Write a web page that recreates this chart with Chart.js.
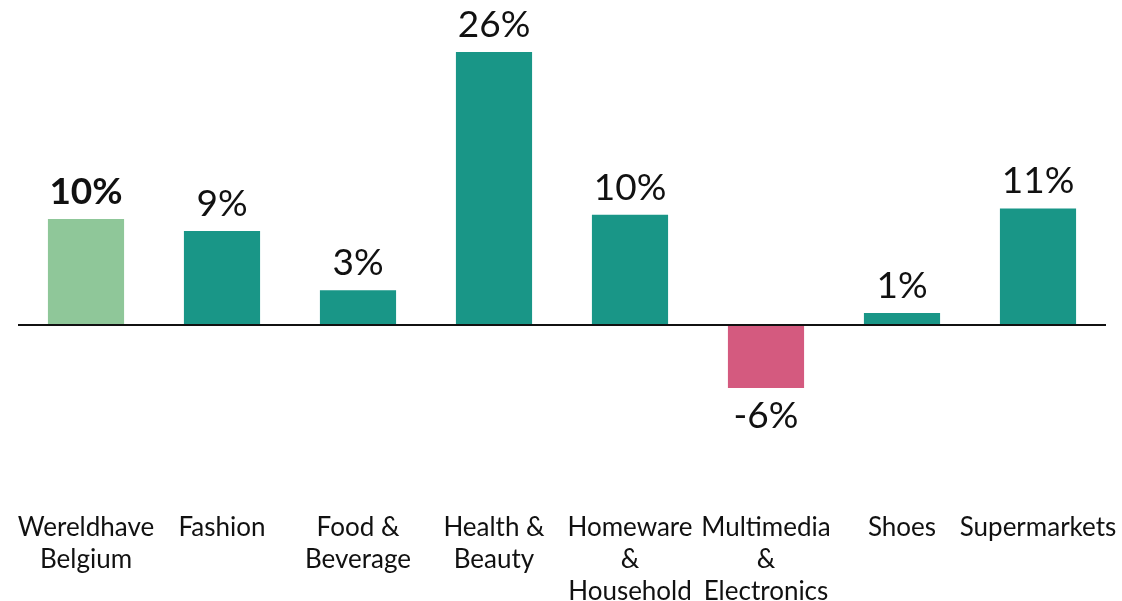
<!DOCTYPE html>
<html lang="en">
<head>
    <meta charset="UTF-8">
    <title>Wereldhave Belgium - growth by sector</title>
    <script src="https://cdn.jsdelivr.net/npm/chart.js"></script>
    <style>
        html, body { margin: 0; padding: 0; background: #fff; overflow: hidden; }
        .wrap { width: 1122px; height: 606px; position: relative; }
    </style>
</head>
<body>
    <div class="wrap">
        <canvas id="sectorChart"></canvas>
    </div>
    <script>
        const categories = [
            ['Wereldhave', 'Belgium'],
            'Fashion',
            ['Food &', 'Beverage'],
            ['Health &', 'Beauty'],
            ['Homeware', '&', 'Household'],
            ['Multimedia', '&', 'Electronics'],
            'Shoes',
            'Supermarkets'
        ];
        const growth = [10.1, 8.95, 3.3, 26.0, 10.5, -6.0, 1.15, 11.1];
        const growthLabels = ['10%', '9%', '3%', '26%', '10%', '-6%', '1%', '11%'];
        const barColors = ['#8fc799', '#199687', '#199687', '#199687', '#199687', '#d45a7f', '#199687', '#199687'];

        // value labels above / below each bar, plus the zero line
        const valueLabels = {
            id: 'valueLabels',
            afterDatasetsDraw(chart) {
                const ctx = chart.ctx;
                const meta = chart.getDatasetMeta(0);
                ctx.save();
                ctx.fillStyle = '#111';
                ctx.textAlign = 'center';
                ctx.textBaseline = 'alphabetic';
                meta.data.forEach((bar, i) => {
                    ctx.font = (i === 0 ? 'bold ' : '') + '37px Lato';
                    if (growth[i] >= 0) {
                        ctx.fillText(growthLabels[i], bar.x, bar.y - 15);
                    } else {
                        ctx.fillText(growthLabels[i], bar.x, bar.y + 40);
                    }
                });
                const y0 = chart.scales.y.getPixelForValue(0);
                ctx.strokeStyle = '#111';
                ctx.lineWidth = 2;
                ctx.beginPath();
                ctx.moveTo(chart.chartArea.left, y0);
                ctx.lineTo(chart.chartArea.right, y0);
                ctx.stroke();
                ctx.restore();
            }
        };

        new Chart(document.getElementById('sectorChart').getContext('2d'), {
            type: 'bar',
            data: {
                labels: categories,
                datasets: [{
                    data: growth,
                    backgroundColor: barColors,
                    barPercentage: 0.56,
                    categoryPercentage: 1.0
                }]
            },
            options: {
                responsive: true,
                maintainAspectRatio: false,
                animation: false,
                layout: { padding: { left: 18, right: 16, top: 10, bottom: 0 } },
                plugins: { legend: { display: false }, tooltip: { enabled: false } },
                scales: {
                    x: {
                        grid: { display: false, drawTicks: false },
                        border: { display: false },
                        afterFit(scale) {
                            scale.height = 113;
                            scale.paddingLeft = 0;
                            scale.paddingRight = 0;
                        },
                        ticks: {
                            color: '#111',
                            padding: 19,
                            maxRotation: 0,
                            autoSkip: false,
                            font: { family: 'Lato', size: 26, lineHeight: '32px' }
                        }
                    },
                    y: {
                        display: false,
                        min: -16,
                        max: 30
                    }
                }
            },
            plugins: [valueLabels]
        });
    </script>
</body>
</html>
